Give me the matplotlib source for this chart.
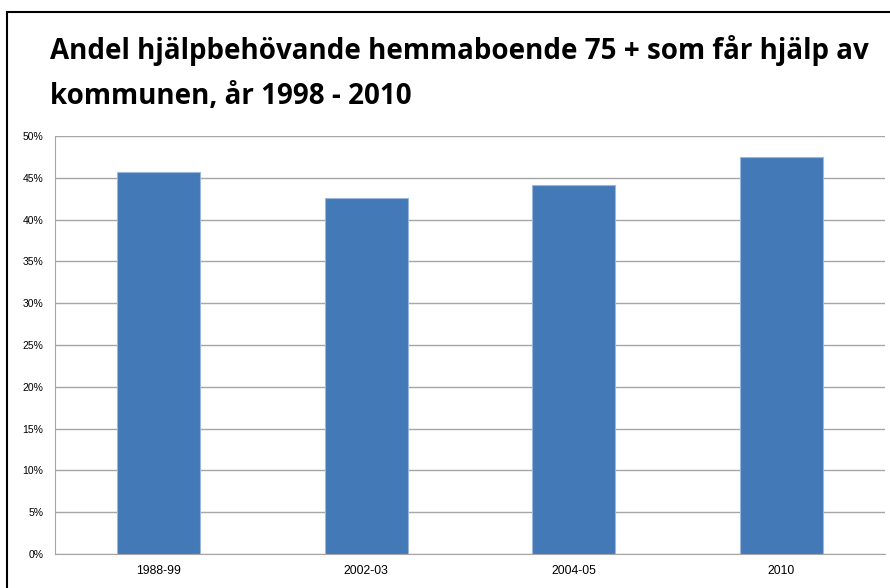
import matplotlib
matplotlib.use("Agg")
import matplotlib.pyplot as plt
from matplotlib.patches import Rectangle
from matplotlib.ticker import FuncFormatter, MultipleLocator

# data
periods = ["1988-99", "2002-03", "2004-05", "2010"]
shares  = [0.4565, 0.426, 0.441, 0.475]

title = "Andel hjälpbehövande hemmaboende 75 + som får hjälp av\nkommunen, år 1998 - 2010"

W, H = 890, 588
fig = plt.figure(figsize=(W / 100, H / 100), dpi=100)

# plot area in pixels: x 55..885, y 136..554
ax = fig.add_axes([55 / W, 1 - 554 / H, 830 / W, 418 / H])

x = range(len(periods))
ax.bar(x, shares, width=0.4, color="#4479B8", edgecolor="#9BB8DC",
       linewidth=0.8, zorder=3)

ax.set_xlim(-0.5, len(periods) - 0.5)
ax.set_ylim(0, 0.5)
ax.yaxis.set_major_locator(MultipleLocator(0.05))
ax.yaxis.set_major_formatter(FuncFormatter(lambda v, _: f"{v * 100:.0f}%"))
ax.set_xticks(list(x))
ax.set_xticklabels(periods)

ax.grid(axis="y", color="#A6A6A6", linewidth=1.0, zorder=0)
for s in ["top", "right"]:
    ax.spines[s].set_visible(False)
ax.spines["left"].set_color("#A6A6A6")
ax.spines["bottom"].set_color("#A6A6A6")
ax.tick_params(length=0, colors="black")
ax.tick_params(axis="y", pad=8.5, labelsize=7.5)
ax.tick_params(axis="x", pad=8, labelsize=8.8)
for lab in ax.get_xticklabels() + ax.get_yticklabels():
    lab.set_family("Liberation Sans")

fig.text(50 / W, 1 - 35 / H, title, ha="left", va="top",
         fontsize=20, fontweight="bold", family="Open Sans",
         linespacing=1.75)

# outer chart frame (left and top edges visible)
fig.patches.append(Rectangle((7 / W, -0.05), 1.1, 1 - 12 / H + 0.05,
                             transform=fig.transFigure, fill=False,
                             edgecolor="black", linewidth=1.5))

fig.savefig("out.png", dpi=100)
